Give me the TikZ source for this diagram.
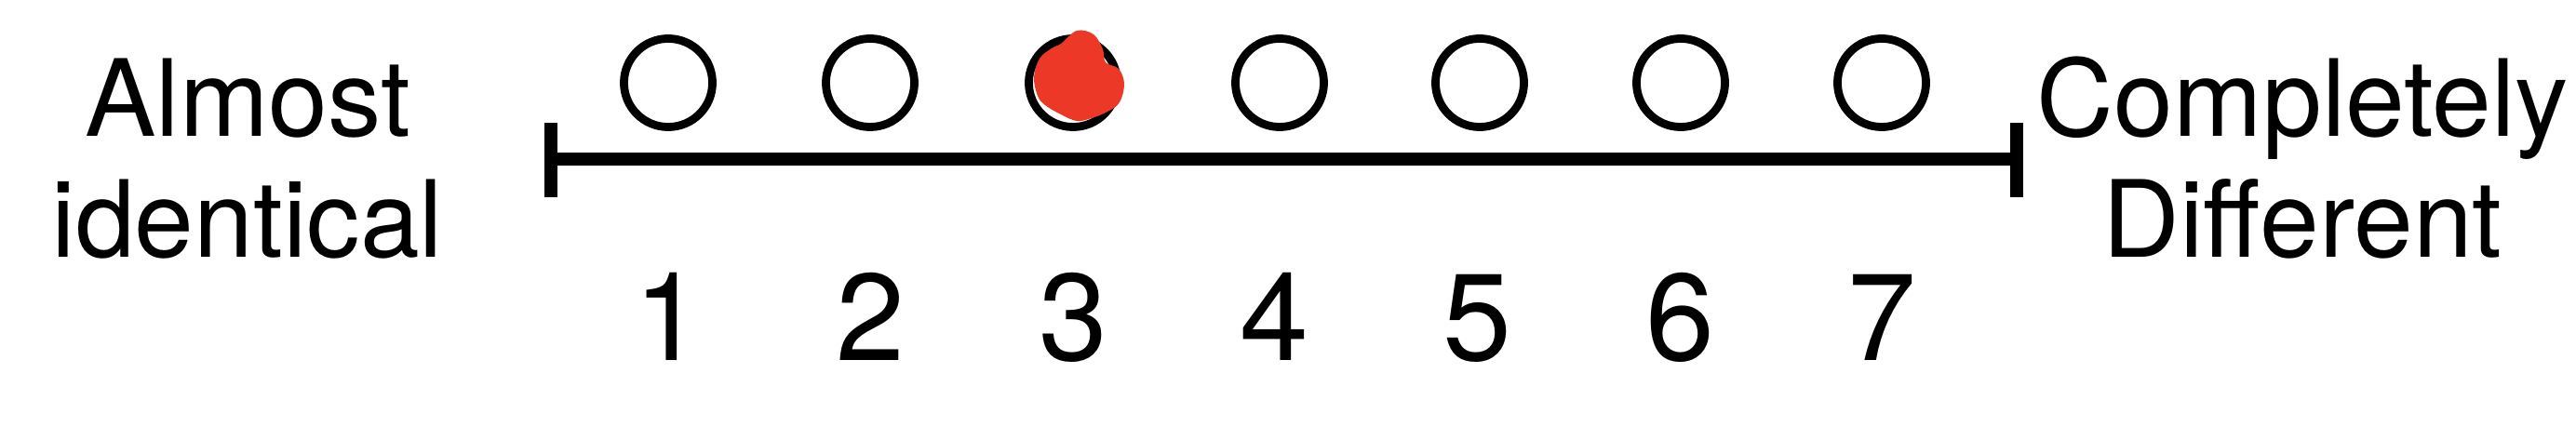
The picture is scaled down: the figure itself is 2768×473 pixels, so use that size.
\documentclass[tikz,border=0pt]{standalone}
\usepackage{fontspec}
\setmainfont{TeX Gyre Heros}
\definecolor{blobred}{RGB}{236,56,38}
\begin{document}
\begin{tikzpicture}[x=0.01cm,y=-0.01cm,
  endlabel/.style={align=center,inner sep=0pt,font=\fontsize{32.6}{37}\selectfont},
  numlabel/.style={anchor=base,inner sep=0pt,font=\fontsize{37.8}{40}\selectfont},
  choice/.style={circle,draw=black,line width=2.5pt,minimum size=0.95cm,inner sep=0pt},
  scaleline/.style={line width=3.7pt},
  tickmark/.style={line width=4.2pt}]
\useasboundingbox[fill=white] (0,0) rectangle (2768,473);
% scale line
\coordinate (L) at (592,171);
\coordinate (R) at (2167,171);
\coordinate (Lt) at (592,132);
\coordinate (Lb) at (592,212);
\coordinate (Rt) at (2167,132);
\coordinate (Rb) at (2167,212);
\draw[scaleline] (L) -- (R);
\draw[tickmark] (Lt) -- (Lb);
\draw[tickmark] (Rt) -- (Rb);
% circles and numbers
\foreach \i/\cx/\nx in {1/718/718,2/935/935,3/1153/1153,4/1375/1369,5/1590/1587,6/1806/1805,7/2022/2022}{
  \node[choice] (c\i) at (\cx,89) {};
  \node[numlabel] (n\i) at (\nx,388) {\i};
}
% red mark on 3
\fill[blobred] plot[smooth cycle,tension=0.6] coordinates {
  (1140,47) (1157,33) (1175,37) (1185,53) (1188,67) (1202,74) (1208,90)
  (1203,110) (1190,120) (1173,127) (1157,130) (1140,123) (1123,113)
  (1115,103) (1111,83) (1117,63) (1130,52)};
% end labels
\node[endlabel,anchor=base] (left) at (266,277) {Almost\\identical};
\node[endlabel,anchor=base] (right) at (2474,277) {Completely\\Different};
\end{tikzpicture}
\end{document}
